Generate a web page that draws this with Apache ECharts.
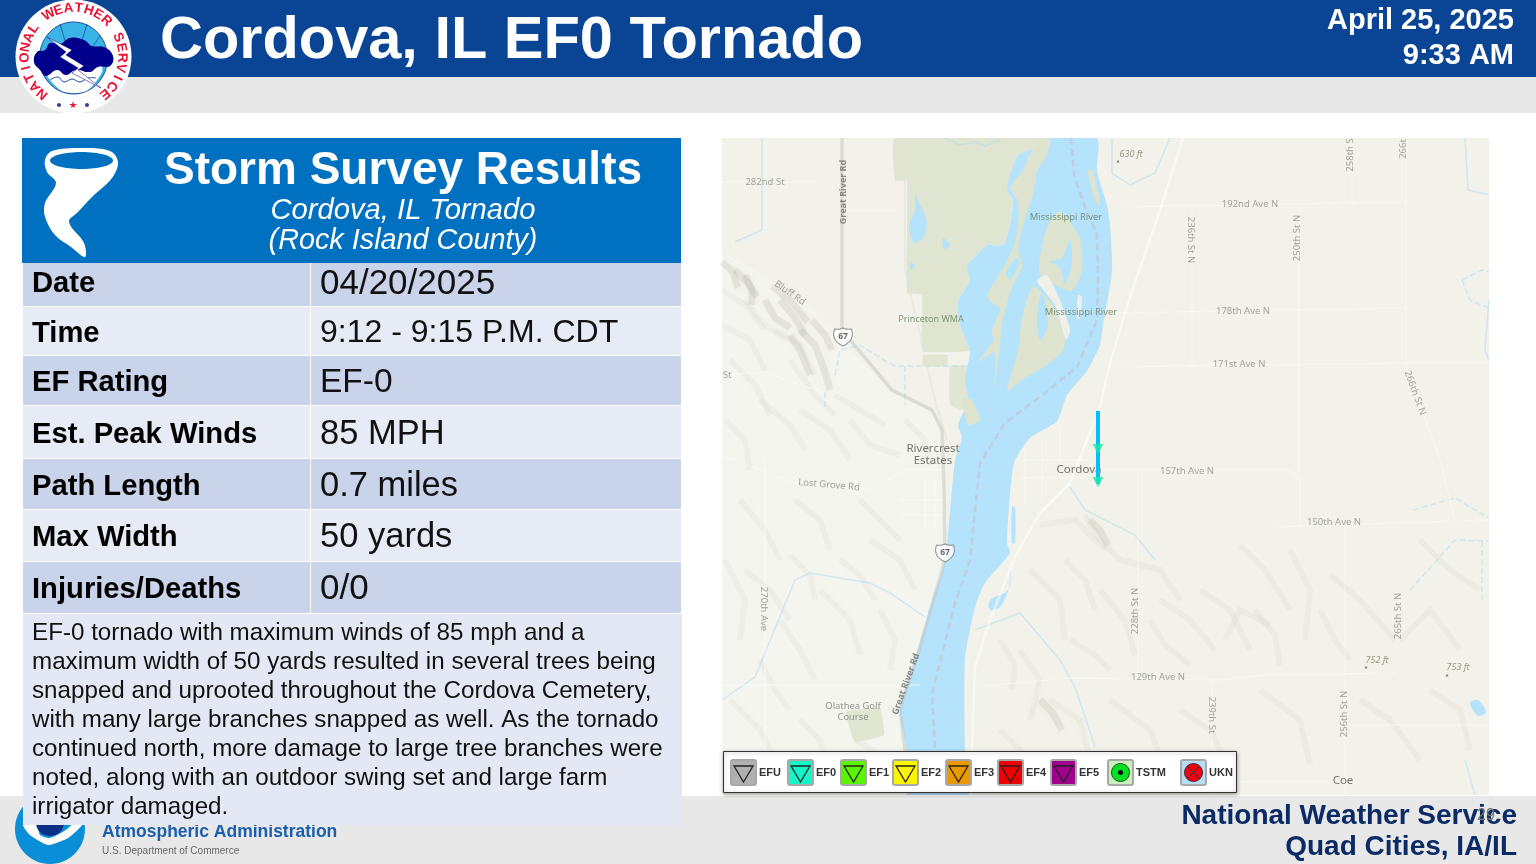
<!DOCTYPE html>
<html>
<head>
<meta charset="utf-8">
<title>Cordova, IL EF0 Tornado</title>
<script src="https://cdn.jsdelivr.net/npm/echarts@6/dist/echarts.min.js"></script>
<style>
  html, body { margin: 0; padding: 0; background: #fff; }
  #main { width: 1536px; height: 864px; }
</style>
</head>
<body>
<div id="main"></div>
<script>
// survey table
const rowLabels = ['Date', 'Time', 'EF Rating', 'Est. Peak Winds', 'Path Length', 'Max Width', 'Injuries/Deaths']
const rowValues = ['04/20/2025', '9:12 - 9:15 P.M. CDT', 'EF-0', '85 MPH', '0.7 miles', '50 yards', '0/0']
const summaryLines = [
  'EF-0 tornado with maximum winds of 85 mph and a',
  'maximum width of 50 yards resulted in several trees being',
  'snapped and uprooted throughout the Cordova Cemetery,',
  'with many large branches snapped as well. As the tornado',
  'continued north, more damage to large tree branches were',
  'noted, along with an outdoor swing set and large farm',
  'irrigator damaged.'
]

// legend
const legendNames = ['EFU', 'EF0', 'EF1', 'EF2', 'EF3', 'EF4', 'EF5', 'TSTM', 'UKN']
const legendColors = ['#b0b0b0', '#14f5c8', '#5cf500', '#fbf500', '#e89a00', '#f00000', '#a0008c', '#c8f0b8', '#b5def5']

// tornado track, in map coordinates
const trackPoints = [[1098, 411], [1098, 484]]
const ratingPoints = [[1098, 449], [1098, 482]]

// map shapes, in map coordinates
const riverShape = [[1050, 138], [1097, 138], [1097, 171], [1107, 205], [1110, 225], [1112, 271], [1103, 325], [1100, 345], [1087, 371], [1067, 395], [1057, 421], [1030, 438], [1015, 460], [1012, 475], [1010, 493], [1007, 543], [1010, 553], [985, 583], [975, 607], [965, 660], [965, 750], [968, 795], [910, 795], [907, 750], [900, 710], [915, 660], [930, 607], [945, 560], [955, 460], [962, 438], [958, 425], [968, 401], [965, 378], [970, 351], [960, 325], [958, 301], [970, 281], [967, 266], [977, 255], [987, 245], [1003, 245], [1010, 225], [1013, 201], [1007, 188], [1018, 155], [1035, 148]]
const wetlandShape = [[895, 138], [1050, 138], [1035, 148], [1018, 155], [1007, 188], [1013, 201], [1010, 225], [1003, 245], [987, 245], [977, 255], [967, 266], [970, 281], [958, 301], [960, 325], [970, 345], [970, 351], [923, 351], [922, 295], [907, 293], [907, 181], [895, 181]]
const wetlandPatches = [
  [[923, 355], [947, 355], [947, 366], [923, 366]],
  [[950, 366], [966, 366], [968, 398], [963, 410], [950, 405]],
  [[846, 712], [880, 708], [884, 735], [855, 742]]
]
const islandShapes = [
  [[1010, 188], [1023, 170], [1033, 148], [1050, 138], [1047, 155], [1037, 171], [1033, 195], [1023, 225], [1018, 251], [1023, 265], [1013, 285], [1002, 308], [990, 301], [987, 295], [1003, 268], [1013, 248], [1018, 225], [1018, 201]],
  [[1012, 285], [1003, 318], [1000, 345], [994, 390], [995, 352], [978, 362], [993, 341], [992, 330]],
  [[1060, 211], [1080, 238], [1082, 271], [1071, 291], [1040, 275], [1042, 245], [1050, 221]],
  [[1033, 286], [1053, 305], [1065, 338], [1063, 351], [1047, 365], [1020, 381], [1007, 391], [1018, 351], [1022, 318]],
  [[1088, 171], [1093, 171], [1100, 205], [1095, 201]],
  [[963, 398], [972, 400], [980, 420], [968, 425]]
]
const sandShapes = [
  [[1037, 281], [1047, 275], [1060, 300], [1070, 330], [1066, 340], [1055, 305]],
  [[1078, 295], [1082, 297], [1080, 318], [1077, 318]]
]
const pondShapes = [
  [[915, 193], [918, 200], [926, 218], [925, 235], [914, 243], [909, 225], [915, 210]],
  [[943, 238], [950, 245], [944, 249]],
  [[910, 263], [915, 265], [911, 270]],
  [[1070, 240], [1072, 262], [1065, 285], [1060, 268], [1050, 262], [1062, 258]],
  [[1042, 292], [1048, 325], [1040, 340], [1037, 318]],
  [[1016, 258], [1020, 262], [1010, 280], [1006, 272]],
  [[1470, 703], [1478, 700], [1486, 712], [1478, 716]],
  [[1010, 568], [1008, 590], [990, 600], [990, 610], [1000, 607], [1010, 585]],
  [[1012, 507], [1015, 507], [1015, 543], [1012, 543]]
]
const mainRoads = [
  [[1183, 138], [1160, 210], [1130, 297], [1110, 363], [1100, 407], [1070, 483], [1040, 513], [1015, 557], [990, 620], [975, 667], [972, 750], [970, 795]]
]
const highwayRoads = [
  [[842, 138], [842, 330], [892, 390], [932, 410], [942, 430], [944, 490], [945, 560], [920, 647], [900, 710], [905, 750], [908, 795]]
]
const railLines = [[[905, 138], [905, 270], [935, 400], [947, 440]]]
const localRoads = [
  [[1120, 207], [1405, 202]], [[1115, 313], [1405, 308]], [[1110, 367], [1489, 362]],
  [[1100, 470], [1290, 470], [1300, 480], [1300, 525]], [[1272, 527], [1489, 520]],
  [[975, 687], [1070, 678], [1220, 680], [1265, 675], [1395, 673]],
  [[1192, 207], [1192, 365]], [[1299, 205], [1299, 470]], [[1352, 138], [1352, 205]], [[1406, 138], [1406, 365], [1440, 460], [1455, 520]],
  [[722, 182], [815, 182]], [[722, 253], [765, 277], [809, 307], [835, 333]], [[843, 210], [897, 210]],
  [[1138, 470], [1138, 680]], [[1212, 680], [1212, 795]], [[1345, 525], [1345, 795]], [[1345, 725], [1489, 725]],
  [[1100, 782], [1330, 782]], [[765, 460], [765, 795]], [[722, 685], [920, 685]],
  [[722, 375], [765, 372], [800, 385], [825, 392]], [[722, 455], [800, 485], [870, 490], [905, 470], [945, 470]],
  [[1022, 460], [1090, 460]], [[1020, 478], [1070, 478]],
  [[1025, 445], [1025, 505]], [[1042, 440], [1042, 500]], [[1060, 425], [1060, 480]],
  [[925, 480], [925, 530]], [[935, 478], [935, 530]], [[900, 500], [945, 500]], [[900, 515], [945, 515]],
  [[923, 353], [970, 353]]
]
const streams = [
  [[762, 138], [762, 230], [735, 242]],
  [[945, 138], [960, 145], [975, 142], [985, 146], [1000, 140]],
  [[1112, 138], [1112, 173], [1130, 185], [1155, 173], [1170, 138]],
  [[1070, 487], [1085, 510], [1135, 535], [1155, 560]],
  [[722, 700], [755, 677], [795, 580], [810, 573], [870, 583], [890, 593], [925, 617]],
  [[975, 630], [1020, 613], [1060, 660], [1075, 687], [1095, 747]],
  [[1465, 138], [1468, 190], [1489, 195]],
  [[1489, 300], [1485, 350], [1489, 360]],
  [[1465, 760], [1475, 795]]
]
const dashedStreams = [
  [[835, 375], [840, 350], [860, 345], [880, 358], [895, 366], [968, 366]], [[905, 366], [905, 405]], [[825, 392], [825, 410]],
  [[1413, 510], [1455, 498], [1489, 518]], [[1410, 590], [1455, 540], [1489, 541]], [[1482, 541], [1482, 600]],
  [[1462, 280], [1482, 270], [1489, 272]], [[1462, 280], [1470, 300], [1489, 308]]
]
const stateLine = [[1071, 138], [1074, 175], [1086, 210], [1097, 235], [1098, 273], [1097, 320], [1077, 367], [1045, 393], [1005, 423], [980, 463], [970, 560], [955, 603], [932, 693], [935, 750], [935, 795]]
const bluffRidges = [
  [[722, 262], [733, 272], [738, 288]], [[735, 270], [748, 283], [757, 297]], [[745, 275], [752, 290], [752, 305]],
  [[772, 286], [790, 300], [808, 322]], [[780, 300], [795, 318], [805, 335]], [[765, 300], [775, 318], [790, 328]],
  [[800, 330], [815, 345], [825, 372], [830, 390]], [[790, 335], [800, 350], [810, 375]], [[812, 320], [825, 335], [832, 350]],
  [[1090, 520], [1100, 530], [1108, 545]], [[1040, 700], [1052, 712], [1062, 730]]
]
const hillRidges = [
  [[722, 290], [745, 305], [765, 330]], [[745, 300], [760, 320], [785, 340]], [[722, 325], [750, 340], [765, 370]],
  [[775, 330], [800, 345], [815, 375]], [[790, 360], [815, 395], [835, 415]], [[730, 360], [755, 385], [770, 415]],
  [[835, 395], [860, 410], [885, 425]], [[760, 400], [790, 425], [805, 450]], [[725, 420], [745, 440], [750, 470]],
  [[850, 420], [870, 445], [900, 455]], [[800, 410], [830, 430], [850, 460]], [[905, 420], [925, 440], [930, 465]],
  [[740, 500], [765, 530], [780, 560]], [[795, 500], [820, 520], [830, 550]], [[860, 500], [880, 520], [900, 540]],
  [[725, 560], [745, 600], [740, 640]], [[820, 590], [850, 620], [860, 655]], [[880, 610], [895, 640], [890, 670]],
  [[780, 620], [800, 650], [815, 680]], [[730, 700], [760, 730], [775, 760]], [[800, 720], [820, 740], [830, 775]],
  [[855, 740], [880, 755], [885, 780]], [[760, 660], [775, 690], [790, 710]], [[870, 540], [900, 560], [915, 590]],
  [[1040, 525], [1075, 520], [1105, 550]], [[1085, 515], [1100, 540], [1120, 560]], [[1030, 570], [1060, 600], [1065, 640]],
  [[1100, 590], [1125, 620], [1135, 655]], [[1160, 600], [1190, 620], [1215, 650]], [[1200, 590], [1230, 610], [1250, 650]],
  [[1240, 545], [1265, 570], [1290, 610]], [[1290, 550], [1310, 590], [1305, 640]], [[1330, 575], [1360, 600], [1395, 640]],
  [[1400, 640], [1430, 610], [1460, 650]], [[1050, 700], [1080, 720], [1090, 760]], [[1110, 700], [1150, 730], [1165, 770]],
  [[1180, 710], [1210, 730], [1230, 770]], [[1260, 690], [1300, 720], [1310, 765]], [[1360, 700], [1390, 720], [1420, 760]],
  [[1430, 690], [1460, 710], [1470, 750]], [[1020, 650], [1040, 680], [1030, 720]], [[1000, 730], [1030, 760], [1050, 790]],
  [[1120, 560], [1160, 570], [1180, 600]], [[1225, 640], [1240, 610], [1270, 625]], [[1420, 540], [1450, 570], [1480, 590]],
  [[1065, 560], [1085, 580], [1095, 610]], [[1150, 620], [1165, 645], [1190, 665]], [[1255, 610], [1275, 635], [1280, 665]],
  [[1320, 610], [1335, 640], [1350, 660]], [[1070, 640], [1095, 655], [1110, 670]], [[1000, 640], [1015, 665], [1012, 690]],
  [[745, 570], [770, 590], [790, 620]], [[840, 560], [860, 575], [875, 600]], [[790, 555], [810, 575], [815, 600]]
]
const hillShape = [[722, 255], [765, 279], [809, 309], [835, 335], [892, 392], [932, 412], [942, 432], [945, 560], [920, 647], [900, 710], [908, 795], [722, 795]]

// map names, [text, x, y, rotation]
const roadNames = [
  ['282nd St', 765, 182, 0], ['Bluff Rd', 790, 293, -35], ['St', 727, 375, 0], ['Lost Grove Rd', 829, 485, -5],
  ['192nd Ave N', 1250, 204, 0], ['178th Ave N', 1243, 311, 0], ['171st Ave N', 1239, 364, 0], ['157th Ave N', 1187, 471, 0],
  ['150th Ave N', 1334, 522, 0], ['129th Ave N', 1158, 677, 0],
  ['236th St N', 1191, 240, -90], ['250th St N', 1297, 238, 90], ['258th S', 1350, 155, 90], ['266t', 1403, 149, 90],
  ['266th St N', 1415, 393, -70], ['228th St N', 1135, 611, 90], ['265th St N', 1398, 616, 90],
  ['270th Ave', 764, 609, -90], ['239th St', 1212, 715, -90], ['256th St N', 1344, 714, 90]
]
const majorRoadNames = [['Great River Rd', 843, 192, 90], ['Great River Rd', 906, 684, 70]]
const waterNames = [['Mississippi River', 1066, 217, 0], ['Mississippi River', 1081, 312, 0]]
const wetlandNames = [['Princeton WMA', 931, 319, 0]]
const placeNames = [['Rivercrest', 933, 449, 0], ['Estates', 933, 461, 0], ['Cordova', 1079, 470, 0], ['Coe', 1343, 781, 0]]
const parkNames = [['Olathea Golf', 853, 706, 0], ['Course', 853, 717, 0]]
const elevationNames = [['630 ft', 1131, 154, 0], ['752 ft', 1377, 660, 0], ['753 ft', 1458, 667, 0]]
const elevationPeaks = [[1118, 161], [1366, 667], [1447, 675]]
const shields = [['67', 843, 337], ['67', 945, 553]]

const polygonSeries = (shapes, color, z, smooth = 0.3) => ({
  type: 'custom',
  coordinateSystem: 'cartesian2d',
  silent: true,
  z,
  data: shapes.map((s, i) => [i]),
  renderItem: (params, api) => ({
    type: 'polygon',
    clipPath: { type: 'rect', shape: { x: params.coordSys.x, y: params.coordSys.y, width: params.coordSys.width, height: params.coordSys.height } },
    shape: { points: shapes[params.dataIndex].map(p => api.coord(p)), smooth },
    style: { fill: color }
  })
})

const pathSeries = (paths, lineStyle, z) => ({
  type: 'lines',
  coordinateSystem: 'cartesian2d',
  polyline: true,
  silent: true,
  z,
  lineStyle,
  data: paths.map(coords => ({ coords }))
})

const nameSeries = (names, label, z = 8) => ({
  type: 'scatter',
  symbolSize: 0,
  silent: true,
  z,
  data: names.map(n => ({
    value: [n[1], n[2]],
    label: { show: true, position: 'inside', formatter: n[0], rotate: n[3] || 0, ...label }
  }))
})

const mapSeries = [
  polygonSeries([hillShape], '#f5f5f0', 1, 0),
  pathSeries(hillRidges, { color: 'rgba(150,145,120,0.12)', width: 6, shadowColor: 'rgba(255,255,255,0.9)', shadowOffsetX: -4, shadowOffsetY: -3, shadowBlur: 5 }, 1),
  pathSeries(bluffRidges, { color: 'rgba(150,145,120,0.28)', width: 7, shadowColor: 'rgba(150,145,120,0.3)', shadowBlur: 6 }, 1),
  polygonSeries([wetlandShape], '#dfe5d1', 2, 0.12),
  polygonSeries(wetlandPatches, '#e0e6d2', 2, 0.1),
  polygonSeries([riverShape], '#b5e3fb', 3, 0.2),
  polygonSeries(islandShapes, '#dde3cf', 3, 0.2),
  polygonSeries(sandShapes, '#f0f0e8', 3, 0.2),
  polygonSeries(pondShapes, '#b5e3fb', 3, 0.3),
  pathSeries(streams, { color: '#aedcee', width: 1.5 }, 4),
  pathSeries(dashedStreams, { color: '#aedcee', width: 1.5, type: 'dashed' }, 4),
  pathSeries(railLines, { color: '#e2e2db', width: 2 }, 4),
  pathSeries(localRoads, { color: '#fbfbf8', width: 1.5 }, 4),
  pathSeries(mainRoads, { color: '#ffffff', width: 2.5 }, 5),
  pathSeries(highwayRoads, { color: '#c6c6c2', width: 3.5 }, 5),
  pathSeries([stateLine], { color: '#c8bcc4', width: 2.5, type: [7, 4] }, 5),
  nameSeries(roadNames, { color: '#8d8d88', fontSize: 9.5, fontFamily: 'Noto Sans' }),
  nameSeries(majorRoadNames, { color: '#6f6f6a', fontSize: 9, fontWeight: 'bold', fontFamily: 'Noto Sans' }),
  nameSeries(waterNames, { color: '#667f5c', fontSize: 9.4, fontFamily: 'Noto Sans' }),
  nameSeries(wetlandNames, { color: '#667f5c', fontSize: 9, fontFamily: 'Noto Sans' }),
  nameSeries(placeNames, { color: '#55554f', fontSize: 11.5, fontFamily: 'Noto Sans' }),
  nameSeries(parkNames, { color: '#7d7d78', fontSize: 9.4, fontFamily: 'Noto Sans' }),
  nameSeries(elevationNames, { color: '#87806a', fontSize: 9, fontStyle: 'italic', fontFamily: 'Noto Sans' }),
  {
    type: 'scatter',
    symbol: 'triangle',
    symbolSize: 3,
    silent: true,
    z: 8,
    itemStyle: { color: '#6f6a55' },
    data: elevationPeaks
  },
  {
    type: 'scatter',
    symbol: 'path://M1 2 C6 3 10 3 15 0 C20 3 24 3 29 2 C33 14 32 26 15 36 C-2 26 -3 14 1 2 Z',
    symbolSize: [19, 18],
    silent: true,
    z: 8,
    itemStyle: { color: '#ffffff', borderColor: '#77776f', borderWidth: 1 },
    label: { show: true, position: 'inside', formatter: p => p.data.name, color: '#44443f', fontSize: 8.5, fontWeight: 'bold', fontFamily: 'Noto Sans' },
    data: shields.map(s => ({ name: s[0], value: [s[1], s[2]] }))
  },
  {
    type: 'line',
    showSymbol: false,
    silent: true,
    z: 9,
    lineStyle: { color: '#00bfff', width: 4 },
    data: trackPoints
  },
  {
    type: 'scatter',
    symbol: 'triangle',
    symbolRotate: 180,
    symbolSize: [11, 10],
    silent: true,
    z: 10,
    itemStyle: { color: '#1ee8a8' },
    data: ratingPoints
  }
]

// slide furniture, all absolute because the slide is a fixed size
const FONT = '"Liberation Sans"'
const legendBoxX = [731, 788, 841, 893, 946, 998, 1051, 1108, 1181]
const rowEdges = [263, 307, 356, 406, 459, 510, 562, 614]
const rowTextY = [284, 333.5, 382.5, 434.5, 486.5, 537.5, 589.5]
const rowValueSizes = [35, 32, 33.5, 34.5, 34.5, 34.5, 35]

const rect = (x, y, width, height, fill, z, extra = {}) => ({
  type: 'rect', z, silent: true, shape: { x, y, width, height, ...(extra.shape || {}) }, style: { fill, ...(extra.style || {}) }
})
const text = (str, x, y, font, fill, z, align = 'left', rotation = 0) => ({
  type: 'text', z, silent: true, x, y, rotation,
  style: { text: str, font, fill, textAlign: align, textVerticalAlign: 'middle' }
})
const poly = (points, fill, z, smooth = 0, extra = {}) => ({
  type: 'polygon', z, silent: true, shape: { points, smooth }, style: { fill, ...extra }
})
const stroke = (points, color, width, z, smooth = 0) => ({
  type: 'polyline', z, silent: true, shape: { points, smooth }, style: { fill: 'none', stroke: color, lineWidth: width }
})
const ellipse = (cx, cy, rx, ry, style, z) => ({ type: 'ellipse', z, silent: true, shape: { cx, cy, rx, ry }, style })

const ringText = 'NATIONAL WEATHER SERVICE'
const ringStep = 280 / (ringText.length - 1)
const logoRing = ringText.split('').map((c, i) => {
  const a = (-140 + i * ringStep) * Math.PI / 180
  return text(c, 73.5 + 48.5 * Math.sin(a), 56.5 - 48.5 * Math.cos(a), 'bold 13.5px ' + FONT, '#ee1133', 31, 'center', -a)
})

const nwsLogo = [
  ellipse(73.5, 56.5, 58, 57, { fill: '#ffffff' }, 30),
  ...logoRing,
  ellipse(73.5, 58, 34, 36, { fill: '#3ab4e6', stroke: '#1e4f9c', lineWidth: 1 }, 31),
  stroke([[60, 24], [66, 44]], '#1e4f9c', 0.8, 32),
  stroke([[87, 24], [81, 44]], '#1e4f9c', 0.8, 32),
  stroke([[100, 36], [92, 48]], '#1e4f9c', 0.8, 32),
  poly([[45, 72], [60, 90], [73, 93], [88, 90], [102, 72], [100, 64], [48, 64]], '#ffffff', 32, 0.3),
  stroke([[50, 80], [58, 77], [64, 82], [72, 79], [80, 82], [88, 78], [96, 78]], '#1e4f9c', 1, 33, 0.4),
  poly([[34, 62], [37, 52], [45, 50], [50, 43], [60, 44], [70, 38], [84, 40], [92, 46], [104, 47], [113, 56], [110, 66], [98, 67], [90, 72], [76, 70], [66, 75], [57, 70], [46, 76], [40, 70]], '#00008b', 33, 0.45),
  poly([[47, 37], [72, 50], [66, 55], [84, 66], [78, 70], [101, 88], [72, 73], [78, 68], [60, 57], [66, 52]], '#ffffff', 34, 0, { stroke: '#00008b', lineWidth: 0.5 }),
  poly([[73, 101], [75, 108], [69, 104], [77, 104], [71, 108]], '#ee1133', 31),
  ellipse(59, 105, 2, 2, { fill: '#2a3f9e' }, 31),
  ellipse(87, 105, 2, 2, { fill: '#2a3f9e' }, 31)
]

const noaaLogo = [
  ellipse(50, 829, 35, 35, { fill: '#0b8ed8' }, 3),
  poly([[23, 825], [37, 825], [40, 835], [50, 838], [66, 830], [72, 825], [82, 825], [68, 838], [48, 845], [30, 835]], '#ffffff', 4, 0.2),
  ellipse(50, 823, 14, 13, { fill: '#0d2f86' }, 5),
  text('Atmospheric Administration', 102, 832, 'bold 17.5px ' + FONT, '#1a5fae', 6),
  text('U.S. Department of Commerce', 102, 851, '10px ' + FONT, '#66666a', 6)
]

const tornadoIcon = [
  poly([[45, 160], [52, 151], [81, 148], [110, 151], [118, 162], [112, 178], [92, 197], [78, 212], [69, 222], [84, 243], [85, 257], [71, 247], [55, 235], [45, 217], [45, 203], [56, 183], [47, 172]], '#ffffff', 22, 0.35),
  ellipse(81.5, 160.5, 31.5, 8.5, { fill: '#0070c0' }, 23)
]

const tableRows = rowLabels.flatMap((label, i) => {
  const top = rowEdges[i], bottom = rowEdges[i + 1]
  const fill = i % 2 === 0 ? '#c9d3ea' : '#e7ebf5'
  return [
    rect(23, top, 287, bottom - top - 1, fill, 21),
    rect(311, top, 370, bottom - top - 1, fill, 21),
    text(label, 32, rowTextY[i], 'bold 29.2px ' + FONT, '#000000', 22),
    text(rowValues[i], 320, rowTextY[i], rowValueSizes[i] + 'px ' + FONT, '#111111', 22)
  ]
})

const summaryText = summaryLines.map((line, i) =>
  text(line, 32, 633 + i * 29, '24.2px ' + FONT, '#111111', 22))

const tableGraphics = [
  rect(22, 138, 659, 125, '#0070c0', 20),
  ...tornadoIcon,
  text('Storm Survey Results', 403, 171, 'bold 46px ' + FONT, '#ffffff', 22, 'center'),
  text('Cordova, IL Tornado', 403, 211, 'italic 29.2px ' + FONT, '#ffffff', 22, 'center'),
  text('(Rock Island County)', 403, 241, 'italic 28.8px ' + FONT, '#ffffff', 22, 'center'),
  ...tableRows,
  rect(23, 614, 659, 211, '#e4e8f4', 20),
  ...summaryText
]

const legendGraphics = [
  rect(723.5, 751.5, 513, 41, '#ffffff', 20, { style: { stroke: '#333333', lineWidth: 1, shadowBlur: 4, shadowColor: 'rgba(0,0,0,0.35)', shadowOffsetY: 1 } }),
  ...legendNames.flatMap((name, i) => {
    const x = legendBoxX[i], cx = x + 12.5, cy = 772.5
    const box = rect(x, 760, 25, 25, legendColors[i], 21, { shape: { r: 2 }, style: { stroke: '#a8a8a8', lineWidth: 2 } })
    const label = text(name, x + 28, 772.5, 'bold 11px ' + FONT, '#333333', 21)
    if (name === 'TSTM') {
      return [box, label, ellipse(cx, cy, 9, 9, { fill: '#00e020', stroke: '#222222', lineWidth: 0.8 }, 22), ellipse(cx, cy, 2.5, 2.5, { fill: '#000000' }, 23)]
    }
    if (name === 'UKN') {
      return [box, label, ellipse(cx, cy, 9, 9, { fill: '#f00010', stroke: '#222222', lineWidth: 0.8 }, 22),
        stroke([[cx - 6, cy - 6], [cx + 6, cy + 6]], '#222222', 1, 23), stroke([[cx + 6, cy - 6], [cx - 6, cy + 6]], '#222222', 1, 23)]
    }
    return [box, label, poly([[x + 3, 766], [x + 22, 766], [cx, 782]], 'none', 22, 0, { stroke: '#222222', lineWidth: 1.3 })]
  })
]

const chart = echarts.init(document.getElementById('main'), null, { renderer: 'canvas' })
chart.setOption({
  animation: false,
  backgroundColor: '#ffffff',
  grid: { left: 722, top: 138, width: 767, height: 657, show: true, backgroundColor: '#f2f2eb', borderWidth: 0 },
  xAxis: { type: 'value', min: 722, max: 1489, show: false },
  yAxis: { type: 'value', min: 138, max: 795, inverse: true, show: false },
  series: mapSeries,
  graphic: { elements: [
    rect(0, 77, 1536, 36, '#e8e8e8', -1),
    rect(0, 796, 1536, 68, '#e8e8e8', -1),
    rect(0, 0, 1536, 77, '#0a4595', 19),
    ...nwsLogo,
    text('Cordova, IL EF0 Tornado', 160, 42, 'bold 59.5px ' + FONT, '#ffffff', 20),
    text('April 25, 2025', 1514, 21, 'bold 29px ' + FONT, '#ffffff', 20, 'right'),
    text('9:33 AM', 1514, 56, 'bold 29px ' + FONT, '#ffffff', 20, 'right'),
    ...noaaLogo,
    ...tableGraphics,
    ...legendGraphics,
    text('National Weather Service', 1517, 816, 'bold 28px ' + FONT, '#0b2b66', 20, 'right'),
    text('Quad Cities, IA/IL', 1517, 847, 'bold 28px ' + FONT, '#0b2b66', 20, 'right'),
    text('29', 1486, 816, '16px ' + FONT, '#777777', 21, 'center')
  ] }
})
</script>
</body>
</html>
